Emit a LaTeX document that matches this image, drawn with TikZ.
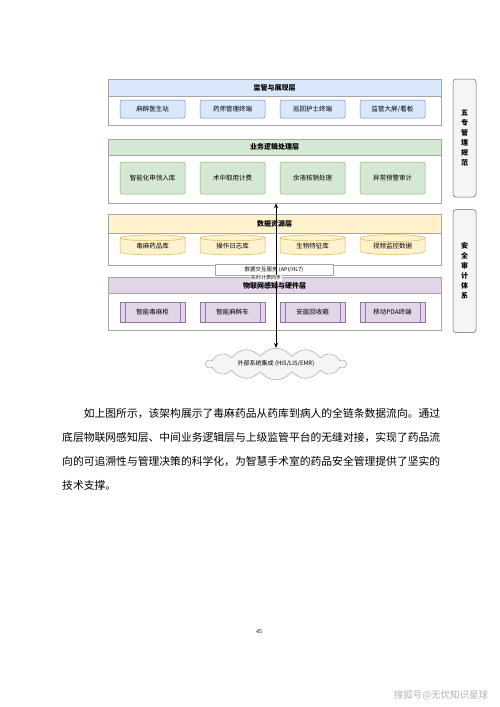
\documentclass[tikz,border=0pt]{standalone}
\usepackage{fontspec}
\setmainfont{Liberation Serif}
\newfontfamily\cjk{Noto Sans CJK SC}
\usetikzlibrary{shapes.geometric,shapes.symbols,arrows.meta}
\definecolor{bluef}{HTML}{DAE8FC}\definecolor{bluel}{HTML}{6C8EBF}
\definecolor{greenf}{HTML}{D5E8D4}\definecolor{greenl}{HTML}{82B366}
\definecolor{yellowf}{HTML}{FFF2CC}\definecolor{yellowl}{HTML}{D6B656}
\definecolor{purplef}{HTML}{E1D5E7}\definecolor{purplel}{HTML}{9673A6}
\definecolor{greyf}{HTML}{F5F5F5}\definecolor{greyl}{HTML}{666666}
\tikzset{
  layerbox/.style={draw=gray!70, line width=0.5pt, fill=white, minimum width=333pt, inner sep=0pt},
  layerhead/.style={draw=gray!70, line width=0.5pt, minimum width=333pt, inner sep=0pt, font=\cjk\bfseries\fontsize{7}{8}\selectfont},
  itembox/.style={rounded corners=2pt, line width=0.5pt, minimum width=65pt, inner sep=0pt, font=\cjk\fontsize{6.5}{7.5}\selectfont},
  dbitem/.style={cylinder, shape border rotate=90, aspect=0.18, draw=yellowl, fill=yellowf, line width=0.5pt, minimum width=65pt, minimum height=20pt, inner sep=0pt, font=\cjk\fontsize{6.5}{7.5}\selectfont},
  hwitem/.style={draw=purplel, fill=purplef, line width=0.5pt, minimum width=65pt, minimum height=20pt, inner sep=0pt, font=\cjk\fontsize{6.5}{7.5}\selectfont},
  sidebox/.style={draw=greyl, fill=greyf, rounded corners=3pt, line width=0.5pt, minimum width=23pt, inner sep=0pt, font=\cjk\bfseries\fontsize{7}{10}\selectfont, align=center},
  smalllabel/.style={draw=gray!70, fill=white, line width=0.4pt, minimum width=118pt, minimum height=11pt, inner sep=0pt, font=\cjk\fontsize{5.5}{6}\selectfont},
  para/.style={anchor=west, inner sep=0pt, font=\cjk\fontsize{10.8}{12}\selectfont},
  flow/.style={line width=0.8pt, {Stealth[length=5pt,width=4pt]}-{Stealth[length=5pt,width=4pt]}}
}
\begin{document}
\begin{tikzpicture}[x=1pt,y=-1pt]
\useasboundingbox (0,0) rectangle (500,707);
\fill[white] (0,0) rectangle (500,707);
% Layer 1
\node[layerbox, minimum height=46pt] (L1) at (274.5,102) {};
\node[layerhead, fill=bluef, minimum height=17pt] (H1) at (274.5,87.5) {监管与展现层};
\foreach \n/\x/\t in {a/152.5/{麻醉医生站}, b/232.5/{药师管理终端}, c/312.5/{巡回护士终端}, d/392.5/{监管大屏/看板}}
  \node[itembox, draw=bluel, fill=bluef, minimum height=18pt] (P\n) at (\x,109) {\t};
% Layer 2
\node[layerbox, minimum height=64pt] (L2) at (274.5,171) {};
\node[layerhead, fill=greenf, minimum height=16pt] (H2) at (274.5,147) {业务逻辑处理层};
\foreach \n/\x/\t in {a/152.5/智能化申领入库, b/232.5/术中取用计费, c/312.5/余液核销处理, d/392.5/异常预警审计}
  \node[itembox, draw=greenl, fill=greenf, minimum height=32pt] (B\n) at (\x,178) {\t};
% Layer 3
\node[layerbox, minimum height=51pt] (L3) at (274.5,239.5) {};
\node[layerhead, fill=yellowf, minimum height=19pt] (H3) at (274.5,223.5) {数据资源层};
\foreach \n/\x/\t in {a/152.5/毒麻药品库, b/232.5/操作日志库, c/312.5/生物特征库, d/392.5/视频监控数据}
  \node[dbitem] (D\n) at (\x,246.5) {\t};
% Layer 4
\node[layerbox, minimum height=53pt] (L4) at (274.5,303.5) {};
\node[layerhead, fill=purplef, minimum height=16pt] (H4) at (274.5,285.5) {物联网感知与硬件层};
\foreach \n/\x/\t in {a/152.5/智能毒麻柜, b/232.5/智能麻醉车, c/312.5/安瓿回收箱, d/392.5/移动PDA终端}{
  \node[hwitem] (W\n) at (\x,312) {\t};
  \draw[purplel, line width=0.5pt] ([xshift=5pt]W\n.north west) -- ([xshift=5pt]W\n.south west)
    ([xshift=-5pt]W\n.north east) -- ([xshift=-5pt]W\n.south east);
}
% interface label
\node[smalllabel] (IF) at (274,269.5) {数据交互服务 (API/HL7)};
% cloud
\node[cloud, cloud puffs=14, cloud puff arc=110, aspect=5.5, draw=gray!70, fill=gray!8, line width=0.5pt, minimum width=140pt, minimum height=24pt, inner sep=0pt, font=\cjk\fontsize{6}{7}\selectfont] (EXT) at (276,364) {外部系统集成 (HIS/LIS/EMR)};
% flow arrow
\draw[flow] (L2.south -| EXT.north) -- (EXT.north);
\node[fill=white, inner sep=0.5pt, font=\cjk\fontsize{5}{5.5}\selectfont] (SYNC) at (266,278) {实时计费同步};
% side boxes
\node[sidebox, minimum height=118pt] (S1) at (464.5,138) {五\\专\\管\\理\\规\\范};
\node[sidebox, minimum height=123pt] (S2) at (464.5,271) {安\\全\\审\\计\\体\\系};
% paragraph
\node[para] (T1) at (83.6,413) {如上图所示，该架构展示了毒麻药品从药库到病人的全链条数据流向。通过};
\node[para] (T2) at (62,437) {底层物联网感知层、中间业务逻辑层与上级监管平台的无缝对接，实现了药品流};
\node[para] (T3) at (62,461) {向的可追溯性与管理决策的科学化，为智慧手术室的药品安全管理提供了坚实的};
\node[para] (T4) at (62,485) {技术支撑。};
% page number and footer
\node[font=\fontsize{6}{7}\selectfont, inner sep=0pt] (PG) at (259,632) {45};
\node[font=\cjk\fontsize{9.5}{10}\selectfont, text=gray!60, inner sep=0pt] (FT) at (441,695) {搜狐号@无忧知识星球};
\end{tikzpicture}
\end{document}
